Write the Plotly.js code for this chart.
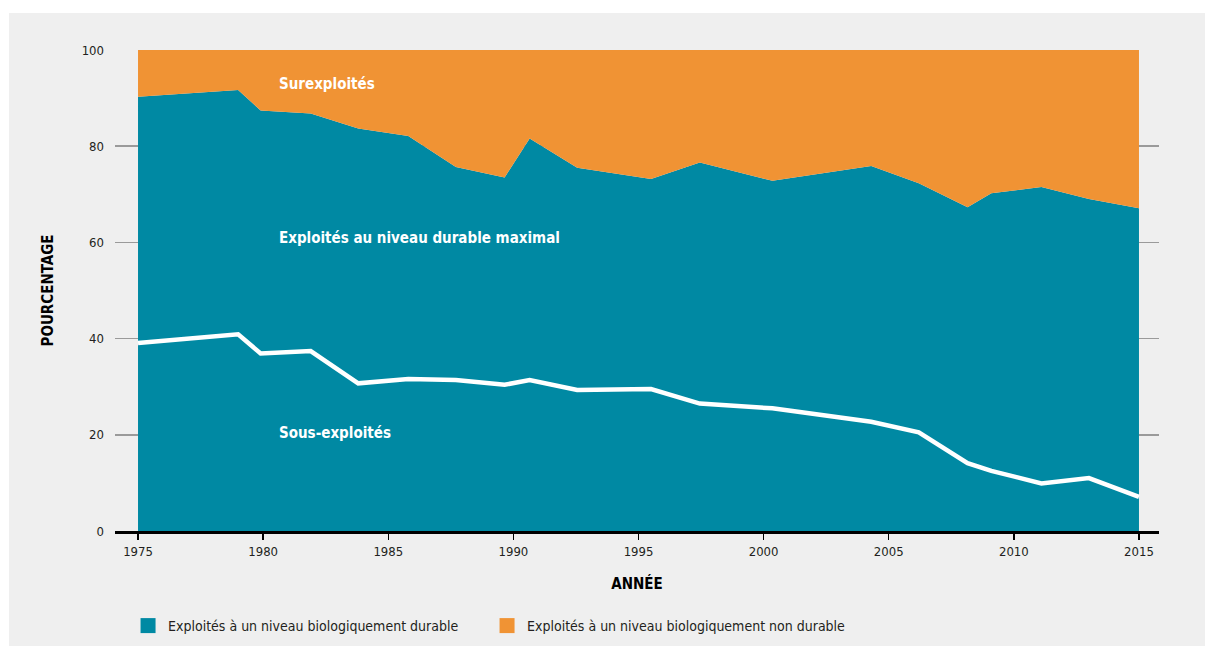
<!DOCTYPE html>
<html>
<head>
<meta charset="utf-8">
<script src="https://cdn.plot.ly/plotly-3.0.1.min.js"></script>
<style>
  html, body { margin: 0; padding: 0; background: #ffffff; }
  #chart { position: absolute; left: 9px; top: 13px; width: 1196px; height: 633px; }
</style>
</head>
<body>
<div id="chart"></div>
<script>
// Years (as positioned in the picture)
const years = [1975, 1979, 1979.9, 1981.9, 1983.8, 1985.8, 1987.7, 1989.65, 1990.65, 1992.55,
               1995.5, 1997.45, 2000.35, 2004.3, 2006.2, 2008.15, 2009.1, 2011.1, 2013.0, 2015];
// Top of teal area: share of stocks fished within biologically sustainable levels (%)
const sustainable = [90.3, 91.7, 87.4, 86.8, 83.7, 82.1, 75.7, 73.5, 81.6, 75.5,
                     73.2, 76.6, 72.8, 75.9, 72.3, 67.3, 70.2, 71.5, 69.0, 67.1];
// Orange area: share of stocks fished at biologically unsustainable levels (%)
const overfished = [9.7, 8.3, 12.6, 13.2, 16.3, 17.9, 24.3, 26.5, 18.4, 24.5,
                    26.8, 23.4, 27.2, 24.1, 27.7, 32.7, 29.8, 28.5, 31.0, 32.9];
// White line: underfished stocks (%)
const underfished = [39.1, 40.9, 36.9, 37.4, 30.7, 31.6, 31.4, 30.4, 31.4, 29.3,
                     29.5, 26.5, 25.5, 22.7, 20.5, 14.1, 12.5, 9.9, 11.0, 7.1];

const yTicks = [0, 20, 40, 60, 80, 100];
const xTicks = [1975, 1980, 1985, 1990, 1995, 2000, 2005, 2010, 2015];

const legendNames = ['Exploités à un niveau biologiquement durable',
                     'Exploités à un niveau biologiquement non durable'];
const labels = [
  {text: 'Surexploités', y: 92.9},
  {text: 'Exploités au niveau durable maximal', y: 60.9},
  {text: 'Sous-exploités', y: 20.4}
];
const labelX = 1980.56;

const FONT = '"DejaVu Sans Condensed", "Liberation Sans Narrow", "Roboto Condensed", Roboto, sans-serif';
const TEAL = '#0089A3';
const ORANGE = '#F09334';

const traces = [
  {
    x: years, y: sustainable, type: 'scatter', mode: 'none',
    stackgroup: 'one', fillcolor: TEAL, name: legendNames[0],
    line: {width: 0}, showlegend: false
  },
  {
    x: years, y: overfished, type: 'scatter', mode: 'none',
    stackgroup: 'one', fillcolor: ORANGE, name: legendNames[1],
    line: {width: 0}, showlegend: false
  },
  {
    x: years, y: underfished, type: 'scatter', mode: 'lines',
    line: {color: '#ffffff', width: 4.5}, showlegend: false, name: 'Sous-exploités'
  },
  // legend proxies (square swatches)
  {
    x: [null], y: [null], type: 'scatter', mode: 'markers', name: legendNames[0],
    marker: {symbol: 'square', size: 15, color: TEAL}
  },
  {
    x: [null], y: [null], type: 'scatter', mode: 'markers', name: legendNames[1],
    marker: {symbol: 'square', size: 15, color: ORANGE}
  }
];

const layout = {
  width: 1196, height: 633,
  paper_bgcolor: '#EFEFEF', plot_bgcolor: '#EFEFEF',
  margin: {l: 106, r: 46, t: 37, b: 115, autoexpand: false},
  font: {family: FONT, color: '#231F20', size: 13},
  showlegend: true,
  legend: {
    orientation: 'h', x: 0.0125, y: 0.0316, xref: 'paper', yref: 'container',
    xanchor: 'left', yanchor: 'middle',
    font: {family: FONT, size: 14, color: '#231F20'},
    itemwidth: 30, traceorder: 'normal', entrywidth: 314, entrywidthmode: 'pixels',
    bgcolor: 'rgba(0,0,0,0)'
  },
  xaxis: {
    range: [1974.08, 2015.8], tickvals: xTicks, ticktext: xTicks.map(String),
    showgrid: false, zeroline: false,
    showline: true, linecolor: '#000000', linewidth: 3,
    ticks: 'outside', ticklen: 6, tickwidth: 1.5, tickcolor: '#000000',
    tickfont: {family: FONT, size: 13, color: '#231F20'},
    title: {text: '<b>ANNÉE</b>', font: {family: FONT, size: 15, color: '#000000'}, standoff: 21}
  },
  yaxis: {
    range: [0, 100], tickvals: yTicks, ticktext: yTicks.map(String),
    showgrid: true, gridcolor: '#9A9A9A', gridwidth: 1.5,
    zeroline: false, showline: false, ticks: '',
    ticklabelstandoff: 10,
    tickfont: {family: FONT, size: 13, color: '#231F20'},
    title: {text: '<b>POURCENTAGE</b>', font: {family: FONT, size: 15, color: '#000000'}, standoff: 24}
  },
  annotations: labels.map(l => ({
    x: labelX, y: l.y, xref: 'x', yref: 'y', xanchor: 'left', text: '<b>' + l.text + '</b>',
    showarrow: false, font: {family: FONT, size: 15, color: '#ffffff'}
  }))
};

Plotly.newPlot('chart', traces, layout, {displayModeBar: false, staticPlot: true});
</script>
</body>
</html>
